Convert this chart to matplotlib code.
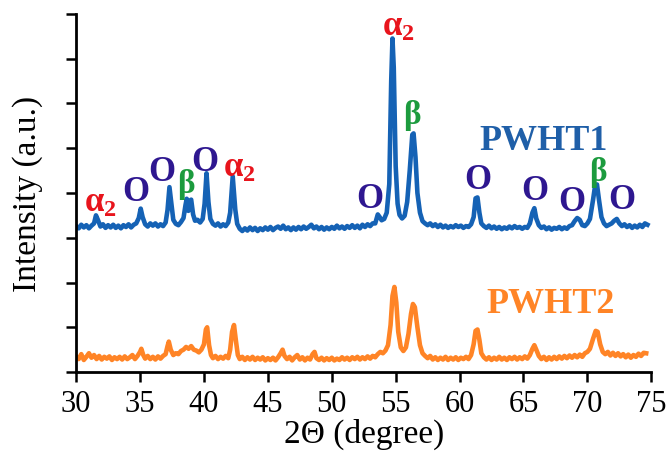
import matplotlib
matplotlib.use("Agg")
import matplotlib.pyplot as plt

# XRD patterns (2-theta in degrees, intensity in a.u.)
pwht1_x = [30.0, 30.2, 30.4, 30.6, 30.8, 31.0, 31.2, 31.4, 31.55, 31.7, 31.9, 32.1, 32.3, 32.5, 32.7, 32.9,
           33.1, 33.3, 33.5, 33.7, 33.9, 34.1, 34.3, 34.5, 34.7, 34.9, 35.05, 35.2, 35.4, 35.6, 35.8, 36.0,
           36.2, 36.4, 36.6, 36.8, 37.0, 37.15, 37.3, 37.45, 37.6, 37.8, 38.0, 38.2, 38.4, 38.55, 38.65, 38.78,
           38.9, 39.0, 39.15, 39.3, 39.5, 39.7, 39.9, 40.05, 40.2, 40.35, 40.5, 40.7, 40.9, 41.1, 41.3, 41.5,
           41.7, 41.9, 42.05, 42.25, 42.45, 42.6, 42.8, 43.0, 43.2, 43.4, 43.6, 43.8, 44.0, 44.2, 44.4, 44.6,
           44.8, 45.0, 45.2, 45.4, 45.6, 45.8, 46.0, 46.2, 46.4, 46.6, 46.8, 47.0, 47.2, 47.4, 47.6, 47.8,
           48.0, 48.2, 48.4, 48.6, 48.8, 49.0, 49.2, 49.4, 49.6, 49.8, 50.0, 50.2, 50.4, 50.6, 50.8, 51.0,
           51.2, 51.4, 51.6, 51.8, 52.0, 52.2, 52.4, 52.6, 52.8, 53.0, 53.2, 53.4, 53.6, 53.75, 53.9, 54.1,
           54.3, 54.5, 54.65, 54.75, 54.85, 55.0, 55.15, 55.3, 55.5, 55.7, 55.9, 56.1, 56.3, 56.4, 56.55, 56.7,
           56.9, 57.1, 57.3, 57.5, 57.7, 57.9, 58.1, 58.3, 58.5, 58.7, 58.9, 59.1, 59.3, 59.5, 59.7, 59.9,
           60.1, 60.3, 60.5, 60.7, 60.9, 61.1, 61.25, 61.4, 61.55, 61.7, 61.9, 62.1, 62.3, 62.5, 62.7, 62.9,
           63.1, 63.3, 63.5, 63.7, 63.9, 64.1, 64.3, 64.5, 64.7, 64.9, 65.1, 65.3, 65.5, 65.7, 65.85, 66.0,
           66.2, 66.4, 66.6, 66.8, 67.0, 67.2, 67.4, 67.6, 67.8, 68.0, 68.2, 68.4, 68.6, 68.8, 69.0, 69.2,
           69.4, 69.6, 69.8, 70.0, 70.2, 70.45, 70.6, 70.75, 70.9, 71.1, 71.3, 71.5, 71.7, 71.9, 72.1, 72.3,
           72.5, 72.7, 72.9, 73.1, 73.3, 73.5, 73.7, 73.9, 74.1, 74.3, 74.5, 74.7]
pwht1_y = [3.26, 3.21, 3.29, 3.23, 3.28, 3.21, 3.27, 3.32, 3.50, 3.40, 3.25, 3.30, 3.22, 3.28, 3.23, 3.29,
           3.22, 3.27, 3.21, 3.28, 3.24, 3.30, 3.23, 3.29, 3.32, 3.44, 3.65, 3.46, 3.30, 3.25, 3.32, 3.27,
           3.32, 3.25, 3.30, 3.26, 3.34, 3.62, 4.13, 3.76, 3.40, 3.31, 3.28, 3.35, 3.44, 3.72, 3.87, 3.60,
           3.83, 3.85, 3.52, 3.38, 3.40, 3.34, 3.42, 3.76, 4.44, 3.80, 3.42, 3.31, 3.27, 3.32, 3.25, 3.30,
           3.26, 3.34, 3.56, 4.37, 3.63, 3.31, 3.20, 3.15, 3.21, 3.16, 3.23, 3.17, 3.22, 3.15, 3.21, 3.17,
           3.23, 3.18, 3.24, 3.17, 3.22, 3.25, 3.20, 3.27, 3.19, 3.23, 3.17, 3.23, 3.18, 3.24, 3.19, 3.25,
           3.20, 3.24, 3.29, 3.21, 3.25, 3.19, 3.24, 3.18, 3.23, 3.19, 3.24, 3.20, 3.27, 3.21, 3.25, 3.20,
           3.26, 3.22, 3.28, 3.22, 3.27, 3.21, 3.29, 3.24, 3.30, 3.26, 3.32, 3.32, 3.52, 3.46, 3.39, 3.42,
           3.56, 4.20, 6.50, 7.45, 6.80, 4.60, 3.76, 3.51, 3.43, 3.49, 3.80, 4.50, 5.30, 5.33, 4.80, 4.00,
           3.56, 3.37, 3.32, 3.28, 3.32, 3.26, 3.30, 3.24, 3.29, 3.23, 3.27, 3.22, 3.26, 3.23, 3.28, 3.24,
           3.27, 3.22, 3.26, 3.24, 3.30, 3.46, 3.88, 3.90, 3.56, 3.32, 3.26, 3.22, 3.27, 3.21, 3.25, 3.20,
           3.24, 3.19, 3.23, 3.20, 3.25, 3.21, 3.26, 3.22, 3.24, 3.20, 3.24, 3.22, 3.32, 3.56, 3.66, 3.43,
           3.28, 3.22, 3.25, 3.19, 3.23, 3.18, 3.22, 3.20, 3.24, 3.19, 3.23, 3.20, 3.26, 3.28, 3.37, 3.44,
           3.40, 3.28, 3.26, 3.32, 3.42, 3.86, 4.16, 4.19, 3.86, 3.46, 3.32, 3.26, 3.29, 3.32, 3.38, 3.42,
           3.32, 3.26, 3.30, 3.24, 3.28, 3.22, 3.27, 3.23, 3.29, 3.24, 3.32, 3.29]

pwht2_x = [30.0, 30.2, 30.4, 30.6, 30.8, 31.0, 31.2, 31.4, 31.6, 31.8, 32.0, 32.2, 32.4, 32.6, 32.8, 33.0,
           33.2, 33.4, 33.6, 33.8, 34.0, 34.2, 34.4, 34.6, 34.8, 35.0, 35.1, 35.25, 35.4, 35.6, 35.8, 36.0,
           36.2, 36.4, 36.6, 36.8, 37.0, 37.15, 37.25, 37.4, 37.6, 37.8, 38.0, 38.2, 38.4, 38.6, 38.8, 39.0,
           39.2, 39.4, 39.6, 39.8, 40.0, 40.15, 40.25, 40.4, 40.55, 40.7, 40.9, 41.1, 41.3, 41.5, 41.7, 41.9,
           42.05, 42.2, 42.35, 42.5, 42.65, 42.8, 43.0, 43.2, 43.4, 43.6, 43.8, 44.0, 44.2, 44.4, 44.6, 44.8,
           45.0, 45.2, 45.4, 45.6, 45.8, 46.0, 46.15, 46.3, 46.5, 46.7, 46.9, 47.1, 47.3, 47.5, 47.7, 47.9,
           48.1, 48.3, 48.5, 48.65, 48.8, 49.0, 49.2, 49.4, 49.6, 49.8, 50.0, 50.2, 50.4, 50.6, 50.8, 51.0,
           51.2, 51.4, 51.6, 51.8, 52.0, 52.2, 52.4, 52.6, 52.8, 53.0, 53.2, 53.4, 53.6, 53.8, 54.0, 54.2,
           54.4, 54.6, 54.75, 54.9, 55.05, 55.2, 55.4, 55.6, 55.8, 56.0, 56.2, 56.35, 56.5, 56.7, 56.9, 57.1,
           57.3, 57.5, 57.7, 57.9, 58.1, 58.3, 58.5, 58.7, 58.9, 59.1, 59.3, 59.5, 59.7, 59.9, 60.1, 60.3,
           60.5, 60.7, 60.9, 61.1, 61.25, 61.4, 61.55, 61.7, 61.9, 62.1, 62.3, 62.5, 62.7, 62.9, 63.1, 63.3,
           63.5, 63.7, 63.9, 64.1, 64.3, 64.5, 64.7, 64.9, 65.1, 65.3, 65.5, 65.7, 65.85, 66.0, 66.2, 66.4,
           66.6, 66.8, 67.0, 67.2, 67.4, 67.6, 67.8, 68.0, 68.2, 68.4, 68.6, 68.8, 69.0, 69.2, 69.4, 69.6,
           69.8, 70.0, 70.2, 70.45, 70.65, 70.8, 71.0, 71.2, 71.4, 71.6, 71.8, 72.0, 72.2, 72.4, 72.6, 72.8,
           73.0, 73.2, 73.4, 73.6, 73.8, 74.0, 74.2, 74.4, 74.6]
pwht2_y = [0.35, 0.29, 0.40, 0.27, 0.34, 0.42, 0.32, 0.38, 0.29, 0.36, 0.28, 0.34, 0.30, 0.35, 0.27, 0.33,
           0.29, 0.34, 0.28, 0.35, 0.29, 0.33, 0.38, 0.29, 0.36, 0.45, 0.52, 0.38, 0.30, 0.36, 0.29, 0.34,
           0.28, 0.35, 0.30, 0.36, 0.40, 0.58, 0.68, 0.50, 0.38, 0.42, 0.40, 0.47, 0.50, 0.56, 0.52, 0.58,
           0.50, 0.48, 0.44, 0.50, 0.62, 0.95, 1.00, 0.60, 0.38, 0.31, 0.36, 0.29, 0.34, 0.30, 0.36, 0.31,
           0.50, 0.90, 1.05, 0.70, 0.38, 0.29, 0.34, 0.27, 0.33, 0.28, 0.34, 0.27, 0.32, 0.28, 0.33, 0.26,
           0.31, 0.27, 0.32, 0.26, 0.33, 0.42, 0.50, 0.36, 0.29, 0.34, 0.26, 0.33, 0.38, 0.28, 0.33, 0.26,
           0.32, 0.28, 0.40, 0.45, 0.31, 0.27, 0.32, 0.26, 0.31, 0.27, 0.32, 0.26, 0.30, 0.27, 0.33, 0.28,
           0.32, 0.27, 0.33, 0.29, 0.34, 0.28, 0.33, 0.29, 0.35, 0.30, 0.36, 0.33, 0.40, 0.45, 0.42, 0.48,
           0.60, 1.05, 1.70, 1.90, 1.55, 0.90, 0.55, 0.47, 0.55, 0.85, 1.30, 1.52, 1.45, 1.00, 0.60, 0.42,
           0.36, 0.31, 0.36, 0.28, 0.33, 0.27, 0.32, 0.28, 0.34, 0.27, 0.32, 0.28, 0.33, 0.27, 0.32, 0.29,
           0.34, 0.29, 0.38, 0.62, 0.92, 0.95, 0.72, 0.42, 0.33, 0.28, 0.33, 0.27, 0.32, 0.28, 0.34, 0.28,
           0.32, 0.27, 0.33, 0.29, 0.34, 0.28, 0.33, 0.29, 0.35, 0.30, 0.38, 0.52, 0.60, 0.50, 0.36, 0.29,
           0.34, 0.27, 0.33, 0.28, 0.34, 0.29, 0.35, 0.30, 0.36, 0.31, 0.37, 0.32, 0.38, 0.33, 0.39, 0.34,
           0.42, 0.45, 0.52, 0.75, 0.92, 0.90, 0.62, 0.45, 0.40, 0.45, 0.37, 0.43, 0.36, 0.42, 0.35, 0.40,
           0.33, 0.39, 0.32, 0.38, 0.34, 0.41, 0.36, 0.43, 0.42]

# phase labels: (kind, x, y)
phase_labels = [
    ("a2", 31.9, 3.80), ("O", 34.7, 4.04), ("O", 36.7, 4.49), ("b", 38.55, 4.20),
    ("O", 40.1, 4.70), ("a2", 42.8, 4.58), ("O", 53.0, 3.88), ("a2", 55.2, 7.72),
    ("b", 56.3, 5.76), ("O", 61.45, 4.29), ("O", 65.9, 4.06), ("O", 68.8, 3.80),
    ("b", 70.85, 4.48), ("O", 72.7, 3.86),
]

BLUE = "#1562b5"
ORANGE = "#ff8426"

plt.rcParams["font.family"] = ["Liberation Serif", "DejaVu Serif"]
plt.rcParams["mathtext.fontset"] = "custom"
plt.rcParams["mathtext.rm"] = "Liberation Serif"
plt.rcParams["mathtext.bf"] = "Liberation Serif:bold"

fig = plt.figure(figsize=(6.68, 4.64), dpi=100)
ax = fig.add_axes([0.114, 0.196, 0.861, 0.772])

ax.plot(pwht1_x, pwht1_y, color=BLUE, lw=3.3, solid_joinstyle="round")
ax.plot(pwht2_x, pwht2_y, color=ORANGE, lw=3.3, solid_joinstyle="round")

styles = {
    "a2": (r"$\mathbf{\alpha_2}$", "#e8141c", 25),
    "O": ("O", "#2e1790", 25),
    "b": ("β", "#1c9b3e", 24),
}
for kind, x, y in phase_labels:
    txt, col, fs = styles[kind]
    ax.text(x, y, txt, color=col, fontsize=fs, fontweight="bold", ha="center", va="center")

ax.text(66.6, 5.18, "PWHT1", color="#1f5fa8", fontsize=26, fontweight="bold", ha="center", va="center")
ax.text(67.1, 1.54, "PWHT2", color=ORANGE, fontsize=26, fontweight="bold", ha="center", va="center")

ax.set_xlim(30, 75)
ax.set_ylim(0, 8)
ax.set_xticks(range(30, 76, 5))
ax.set_yticks(range(0, 9))
ax.set_yticklabels([])
ax.tick_params(direction="out", length=7, width=1.8, labelsize=22, pad=5)
for side in ["top", "right"]:
    ax.spines[side].set_visible(False)
for side in ["left", "bottom"]:
    ax.spines[side].set_linewidth(2.0)

ax.set_xlabel("2Θ (degree)", fontsize=24, labelpad=0)
ax.set_ylabel("Intensity (a.u.)", fontsize=24, labelpad=12)

fig.savefig("out.png", dpi=100)
